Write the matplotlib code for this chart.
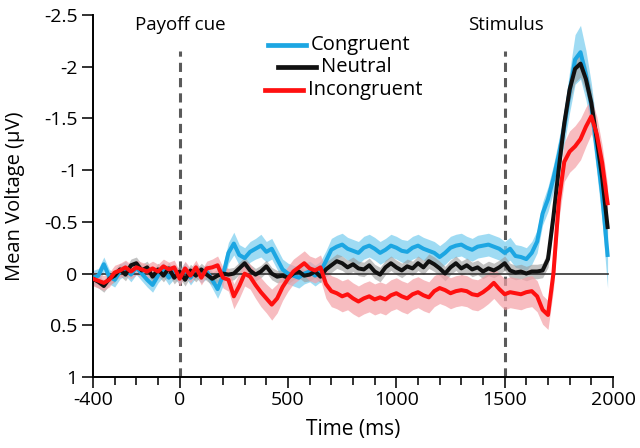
import numpy as np
import matplotlib
matplotlib.use("Agg")
import matplotlib.pyplot as plt
from matplotlib.lines import Line2D
from matplotlib.ticker import FuncFormatter, MultipleLocator

plt.rcParams['font.family'] = ['Open Sans', 'DejaVu Sans']
plt.rcParams['axes.unicode_minus'] = False

time_ms = list(range(-400, 2000, 25))

congruent = [0.04, 0.02, -0.09, 0.03, 0.06, -0.02, -0.05, 0.01, -0.06, 0.00,
             0.06, 0.11, 0.02, -0.04, 0.04, -0.02, 0.03, -0.04, 0.04, -0.03,
             0.02, -0.02, 0.06, 0.15, 0.02, -0.20, -0.29, -0.18, -0.15, -0.21,
             -0.24, -0.27, -0.21, -0.24, -0.14, -0.04, 0.00, 0.02, 0.04, 0.00,
             -0.02, 0.02, -0.02, -0.12, -0.23, -0.26, -0.28, -0.24, -0.22, -0.20,
             -0.25, -0.27, -0.24, -0.20, -0.23, -0.27, -0.25, -0.22, -0.21, -0.25,
             -0.27, -0.24, -0.22, -0.20, -0.16, -0.20, -0.25, -0.27, -0.28, -0.25,
             -0.23, -0.26, -0.27, -0.28, -0.26, -0.24, -0.20, -0.24, -0.17, -0.16,
             -0.14, -0.20, -0.31, -0.58, -0.72, -0.92, -1.15, -1.42, -1.76, -2.07,
             -2.14, -1.92, -1.62, -1.20, -0.76, -0.18]

neutral = [0.05, 0.08, 0.12, 0.05, 0.02, -0.04, 0.01, -0.08, -0.10, -0.03,
           -0.06, 0.03, -0.04, 0.02, -0.05, 0.04, -0.02, 0.06, -0.03, 0.02,
           -0.04, 0.01, 0.05, 0.02, 0.00, 0.01, 0.00, -0.05, -0.10, -0.03,
           0.01, -0.02, -0.07, 0.00, 0.03, 0.02, 0.04, 0.00, -0.02, 0.02,
           0.01, -0.02, 0.03, -0.04, -0.08, -0.12, -0.10, -0.06, -0.09, -0.05,
           -0.04, -0.08, -0.02, 0.01, -0.06, -0.10, -0.06, -0.03, -0.07, -0.05,
           -0.10, -0.06, -0.12, -0.09, -0.05, 0.00, -0.06, -0.10, -0.05, -0.08,
           -0.04, -0.06, -0.02, -0.05, -0.03, -0.06, -0.10, -0.03, -0.01, -0.02,
           0.00, -0.02, -0.02, -0.03, -0.14, -0.55, -1.02, -1.45, -1.78, -1.98,
           -2.03, -1.88, -1.65, -1.30, -0.93, -0.45]

incongruent = [0.05, 0.07, 0.09, 0.06, -0.01, -0.03, -0.06, -0.02, -0.06, -0.04,
               -0.02, -0.05, -0.02, -0.07, -0.04, -0.06, 0.05, -0.05, 0.02, -0.06,
               0.04, -0.05, -0.06, -0.08, 0.04, 0.06, 0.22, 0.12, 0.00, 0.03,
               0.11, 0.18, 0.24, 0.30, 0.24, 0.13, 0.05, -0.02, -0.06, -0.10,
               -0.05, -0.03, -0.06, 0.10, 0.17, 0.19, 0.22, 0.20, 0.24, 0.27,
               0.24, 0.22, 0.25, 0.23, 0.25, 0.21, 0.19, 0.22, 0.24, 0.20,
               0.18, 0.21, 0.23, 0.17, 0.14, 0.16, 0.19, 0.17, 0.16, 0.17,
               0.20, 0.21, 0.18, 0.14, 0.09, 0.15, 0.20, 0.18, 0.19, 0.20,
               0.18, 0.17, 0.22, 0.35, 0.40, 0.00, -0.70, -1.08, -1.18, -1.23,
               -1.30, -1.42, -1.52, -1.35, -1.07, -0.68]

sem_congruent = [0.07, 0.07, 0.07, 0.07, 0.07, 0.07, 0.07, 0.07, 0.07, 0.07,
                 0.07, 0.07, 0.07, 0.07, 0.07, 0.07, 0.07, 0.07, 0.07, 0.07,
                 0.07, 0.07, 0.08, 0.09, 0.10, 0.10, 0.11, 0.10, 0.10, 0.10,
                 0.10, 0.11, 0.10, 0.10, 0.10, 0.10, 0.10, 0.10, 0.10, 0.10,
                 0.10, 0.10, 0.10, 0.10, 0.11, 0.11, 0.11, 0.11, 0.11, 0.11,
                 0.11, 0.11, 0.11, 0.11, 0.11, 0.11, 0.11, 0.11, 0.11, 0.11,
                 0.11, 0.11, 0.11, 0.11, 0.11, 0.11, 0.11, 0.11, 0.11, 0.11,
                 0.11, 0.11, 0.11, 0.11, 0.11, 0.11, 0.11, 0.11, 0.11, 0.11,
                 0.11, 0.11, 0.11, 0.11, 0.12, 0.13, 0.15, 0.17, 0.20, 0.24,
                 0.26, 0.24, 0.22, 0.22, 0.26, 0.32]

sem_neutral = [0.06, 0.06, 0.06, 0.06, 0.06, 0.06, 0.06, 0.06, 0.06, 0.06,
               0.06, 0.06, 0.06, 0.06, 0.06, 0.06, 0.06, 0.06, 0.06, 0.06,
               0.06, 0.06, 0.06, 0.06, 0.06, 0.06, 0.06, 0.06, 0.06, 0.06,
               0.06, 0.06, 0.06, 0.06, 0.06, 0.06, 0.06, 0.06, 0.06, 0.06,
               0.06, 0.06, 0.06, 0.07, 0.07, 0.07, 0.07, 0.07, 0.07, 0.07,
               0.07, 0.07, 0.07, 0.07, 0.07, 0.07, 0.07, 0.07, 0.07, 0.07,
               0.07, 0.07, 0.07, 0.07, 0.07, 0.07, 0.07, 0.07, 0.07, 0.07,
               0.07, 0.07, 0.07, 0.07, 0.07, 0.07, 0.07, 0.07, 0.07, 0.07,
               0.07, 0.07, 0.07, 0.07, 0.08, 0.09, 0.10, 0.11, 0.12, 0.13,
               0.13, 0.13, 0.12, 0.11, 0.11, 0.11]

sem_incongruent = [0.07, 0.07, 0.07, 0.07, 0.07, 0.07, 0.07, 0.07, 0.07, 0.07,
                   0.07, 0.07, 0.07, 0.07, 0.07, 0.07, 0.07, 0.07, 0.07, 0.07,
                   0.07, 0.07, 0.08, 0.09, 0.10, 0.11, 0.12, 0.12, 0.12, 0.12,
                   0.13, 0.14, 0.14, 0.15, 0.14, 0.13, 0.12, 0.12, 0.12, 0.12,
                   0.12, 0.12, 0.12, 0.14, 0.15, 0.15, 0.15, 0.15, 0.15, 0.15,
                   0.15, 0.15, 0.15, 0.15, 0.15, 0.15, 0.15, 0.15, 0.15, 0.15,
                   0.15, 0.15, 0.15, 0.15, 0.15, 0.15, 0.15, 0.15, 0.15, 0.15,
                   0.15, 0.15, 0.15, 0.15, 0.15, 0.15, 0.15, 0.15, 0.15, 0.15,
                   0.15, 0.15, 0.15, 0.14, 0.14, 0.16, 0.18, 0.19, 0.20, 0.20,
                   0.20, 0.19, 0.17, 0.17, 0.17, 0.17]

series_names = ["Congruent", "Neutral", "Incongruent"]
event_times = [0, 1500]
event_labels = ["Payoff cue", "Stimulus"]
x_major_ticks = [-400, 0, 500, 1000, 1500, 2000]
y_ticks = [-2.5, -2, -1.5, -1, -0.5, 0, 0.5, 1]

line_colors = ["#1CA6E2", "#111111", "#FF1010"]
band_colors = ["#7FD0F0", "#9A9A9A", "#F4A0A6"]
band_alpha = [0.75, 0.6, 0.7]

fig = plt.figure(figsize=(6.4, 4.48), dpi=100)
ax = fig.add_axes([93 / 640, 1 - 377 / 448, 520 / 640, 362 / 448])

t = np.array(time_ms)
data = [np.array(congruent), np.array(neutral), np.array(incongruent)]
sems = [np.array(sem_congruent), np.array(sem_neutral), np.array(sem_incongruent)]

for i in range(3):
    ax.fill_between(t, data[i] - sems[i], data[i] + sems[i], color=band_colors[i],
                    alpha=band_alpha[i], lw=0, zorder=2)

ax.plot([t[0], t[-1]], [0, 0], color="#333333", lw=1.2, zorder=3)

for et in event_times:
    ax.vlines(et, 1, -2.15, colors="#5a5a5a", linestyles=(0, (3, 2)), lw=2.2, zorder=1)

for i in range(3):
    ax.plot(t, data[i], color=line_colors[i], lw=2.9, zorder=4 + i,
            solid_joinstyle='round')

ax.set_xlim(-400, 2000)
ax.set_ylim(1, -2.5)
ax.set_xticks(x_major_ticks)
ax.xaxis.set_minor_locator(MultipleLocator(100))
ax.set_yticks(y_ticks)
ax.yaxis.set_major_formatter(FuncFormatter(lambda v, p: "%g" % v))
ax.spines['top'].set_visible(False)
ax.spines['right'].set_visible(False)
ax.spines['left'].set_linewidth(1.4)
ax.spines['bottom'].set_linewidth(1.4)
ax.tick_params(axis='both', which='major', length=8, width=1.3, labelsize=14, color="#222222")
ax.tick_params(axis='x', which='minor', length=6, width=1.3, color="#222222")
ax.tick_params(axis='x', pad=2)
ax.tick_params(axis='y', pad=3)
ax.set_xlabel("Time (ms)", fontsize=15)
ax.set_ylabel("Mean Voltage (\u03bcV)", fontsize=14.5)
ax.xaxis.set_label_coords(0.5, (377 - 419) / 362)
ax.yaxis.set_label_coords((25 - 93) / 520, 0.5)

fig.text(180 / 640, 1 - 25 / 448, event_labels[0], ha='center', va='center', fontsize=13.5)
fig.text(506 / 640, 1 - 25 / 448, event_labels[1], ha='center', va='center', fontsize=13.5)

legend_pos = [(268, 45), (278, 67), (265, 90)]
for i, name in enumerate(series_names):
    x0, y0 = legend_pos[i]
    fig.add_artist(Line2D([x0 / 640, (x0 + 38) / 640], [1 - y0 / 448, 1 - y0 / 448],
                          color=line_colors[i], lw=3.4))
    fig.text((x0 + 43) / 640, 1 - y0 / 448, name, ha='left', va='center', fontsize=14.5)

fig.savefig("out.png", dpi=100)
